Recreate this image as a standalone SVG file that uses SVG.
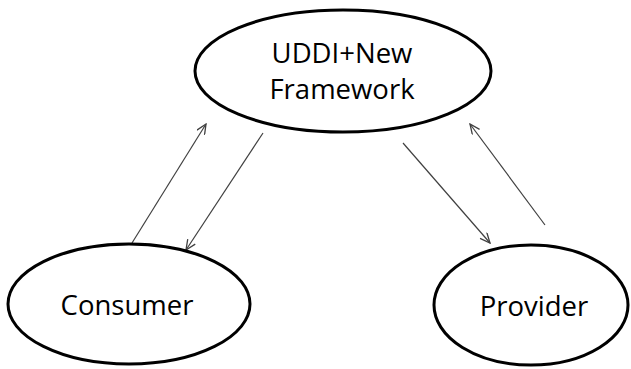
<svg xmlns="http://www.w3.org/2000/svg" width="631" height="369" viewBox="0 0 631 369">
<style>
.node{fill:#fff;stroke:#000;stroke-width:3}
.lbl{font-family:"Open Sans","Noto Sans",sans-serif;font-size:27.5px;fill:#000;text-anchor:middle}
.conn{stroke:#404040;stroke-width:1.2;fill:none;marker-end:url(#ah)}
</style>
<defs>
<marker id="ah" viewBox="0 0 12 10" refX="11" refY="5" markerWidth="12" markerHeight="10" markerUnits="userSpaceOnUse" orient="auto">
<path d="M1,0.5 L11,5 L1,9.5" fill="none" stroke="#404040" stroke-width="1.3"/>
</marker>
</defs>
<rect width="631" height="369" fill="#fff"/>
<g id="connectors">
<line class="conn" x1="132" y1="243" x2="206" y2="124"/>
<line class="conn" x1="263" y1="133" x2="186" y2="250"/>
<line class="conn" x1="403" y1="143" x2="490" y2="243"/>
<line class="conn" x1="545" y1="225" x2="470" y2="124"/>
</g>
<g id="uddi">
<ellipse class="node" cx="343" cy="71" rx="148" ry="61"/>
<text class="lbl" x="342" y="63">UDDI+New</text>
<text class="lbl" x="342" y="99">Framework</text>
</g>
<g id="consumer">
<ellipse class="node" cx="129" cy="304" rx="121" ry="60"/>
<text class="lbl" x="127" y="315">Consumer</text>
</g>
<g id="provider">
<ellipse class="node" cx="531" cy="305" rx="97" ry="60"/>
<text class="lbl" x="534" y="316">Provider</text>
</g>
</svg>
